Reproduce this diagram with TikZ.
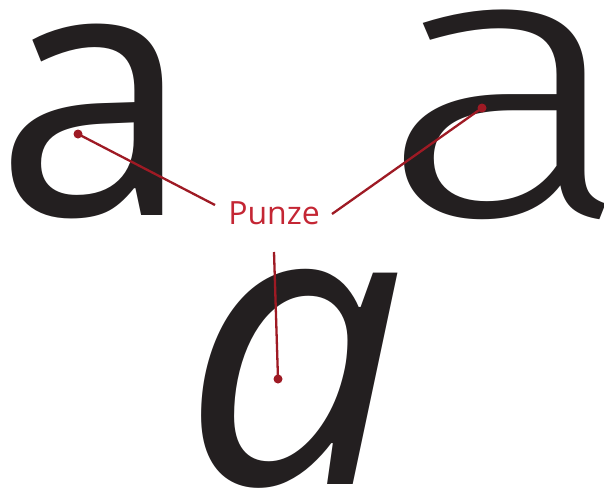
\documentclass[tikz,border=0pt]{standalone}
\usepackage{fontspec}
\setmainfont{Open Sans}
\newfontfamily\lightsans{Fira Sans Light}
\definecolor{glyphblack}{RGB}{35,31,32}
\definecolor{punzered}{RGB}{158,26,36}
\definecolor{labelred}{RGB}{196,38,52}
\begin{document}
\begin{tikzpicture}[x=1pt, y=-1pt,
  glyph/.style={inner sep=0pt, text=glyphblack},
  lead/.style={line width=2.3pt, punzered},
  counter/.style={circle, fill=punzered, inner sep=0pt, minimum size=9pt}]
\useasboundingbox (0,0) rectangle (604,487);
% the three letters
\node[glyph, anchor=base west, font=\fontsize{352}{352}\selectfont] (aleft) at (-5,215) {a};
\node[glyph, anchor=base east, font=\lightsans\fontsize{385}{385}\selectfont] (aright) at (636,215) {\scalebox{1.25}[1]{a}};
\node[glyph, anchor=base, font=\fontsize{395}{395}\selectfont\itshape] (abottom) at (294,484) {a};
% label
\node[text=labelred, inner sep=0pt, font=\fontsize{32}{32}\selectfont] (punze) at (274,213) {Punze};
% counter points and leader ends
\node[counter] (c1) at (78,134) {};
\node[counter] (c2) at (482,108) {};
\node[counter] (c3) at (278,379) {};
\coordinate (e1) at (215,205);
\coordinate (e2) at (332,214);
\coordinate (e3) at (274,252);
\draw[lead] (e1) -- (c1.center);
\draw[lead] (e2) -- (c2.center);
\draw[lead] (e3) -- (c3.center);
\end{tikzpicture}
\end{document}
